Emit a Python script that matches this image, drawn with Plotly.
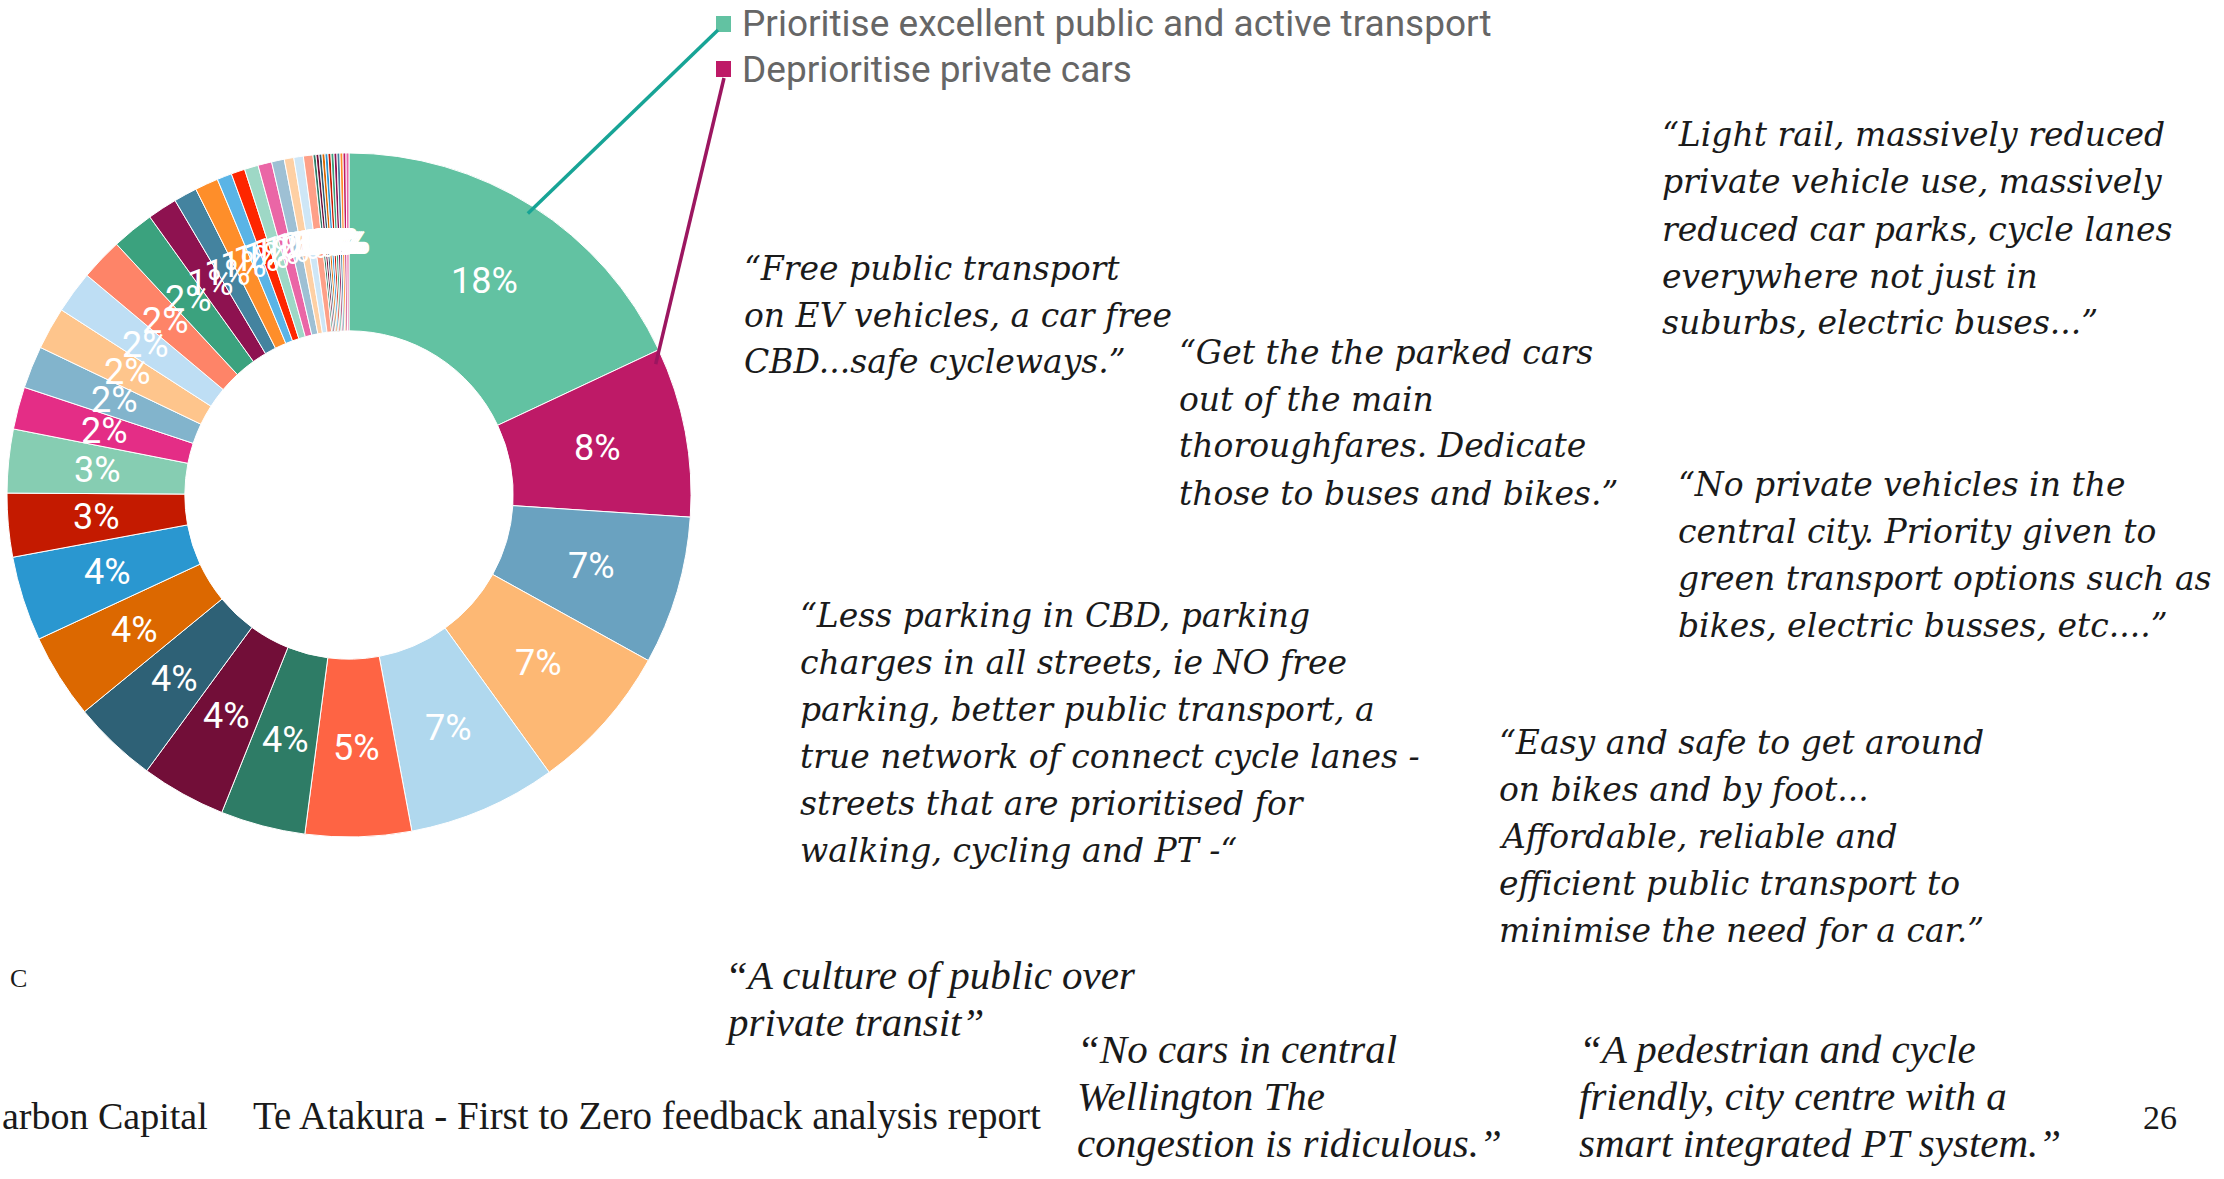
import math
import plotly.graph_objects as go

W, H = 2224, 1179

# ---------------- data ----------------
categories = [
    "Prioritise excellent public and active transport",
    "Deprioritise private cars",
    "Theme 3", "Theme 4", "Theme 5", "Theme 6", "Theme 7", "Theme 8", "Theme 9",
    "Theme 10", "Theme 11", "Theme 12", "Theme 13", "Theme 14", "Theme 15",
    "Theme 16", "Theme 17", "Theme 18", "Theme 19", "Theme 20", "Theme 21",
    "Theme 22", "Theme 23", "Theme 24", "Theme 25", "Theme 26", "Theme 27",
    "Theme 28", "Theme 29", "Theme 30", "Theme 31", "Theme 32", "Theme 33",
    "Theme 34", "Theme 35", "Theme 36", "Theme 37", "Theme 38", "Theme 39",
    "Theme 40", "Theme 41", "Theme 42",
]
values = [
    18, 8, 7, 7, 7, 5, 4, 4, 4, 4, 4, 3, 3, 2, 2, 2, 2, 2, 2,
    1.4, 1.1, 1.1, 0.7, 0.65, 0.65, 0.65, 0.6, 0.45, 0.45, 0.45,
    0.14, 0.14, 0.14, 0.14, 0.14, 0.14, 0.14, 0.14, 0.14, 0.14, 0.14, 0.14,
]
colors = [
    "#62C2A2", "#BE1A67", "#6AA2C0", "#FDB874", "#B0D8EE", "#FE6444",
    "#2E7C66", "#720E38", "#2E6176", "#DC6800", "#2A97D0", "#C41A00",
    "#86CDB2", "#E42D86", "#82B4CC", "#FEC58C", "#BEDEF4", "#FE8468",
    "#3BA27E", "#8E1250", "#44839F", "#FE8E2A", "#5AB4E6", "#FE2600",
    "#9ED8C6", "#EA66A6", "#9EC0D4", "#FED0A4", "#CEE6F6", "#FEA088",
    "#2E7C66", "#720E38", "#2E6176", "#DC6800", "#2A97D0", "#C41A00",
    "#3BA27E", "#8E1250", "#44839F", "#FE8E2A", "#BE1A67", "#EA66A6",
]

legend_labels = categories[:2]
legend_colors = colors[:2]
leader_colors = ["#17A496", "#9C1660"]

quotes = [
    (742, 268, ["“Free public transport", "on EV vehicles, a car free", "CBD...safe cycleways.”"]),
    (1177, 352, ["“Get the the parked cars", "out of the main", "thoroughfares. Dedicate", "those to buses and bikes.”"]),
    (1660, 135, ["“Light rail, massively reduced", "private vehicle use, massively", "reduced car parks, cycle lanes", "everywhere not just in", "suburbs, electric buses...”"]),
    (1676, 484, ["“No private vehicles in the", "central city. Priority given to", "green transport options such as", "bikes, electric busses, etc....”"]),
    (798, 615, ["“Less parking in CBD, parking", "charges in all streets, ie NO free", "parking, better public transport, a", "true network of connect cycle lanes -", "streets that are prioritised for", "walking, cycling and PT -“"]),
    (1497, 742, ["“Easy and safe to get around", "on bikes and by foot...", "Affordable, reliable and", "efficient public transport to", "minimise the need for a car.”"]),
]
quotes_narrow = [
    (723, 975, ["“A culture of public over", "private transit”"]),
    (1075, 1049, ["“No cars in central", "Wellington The", "congestion is ridiculous.”"]),
    (1577, 1049, ["“A pedestrian and cycle", "friendly, city centre with a", "smart integrated PT system.”"]),
]
footer_left = "arbon Capital"
footer_title = "Te Atakura - First to Zero feedback analysis report"
page_number = "26"
corner_letter = "C"

# ---------------- geometry ----------------
cx, cy, R = 349, 495, 342
hole = 0.48
LINE = 47

fig = go.Figure()
fig.add_trace(go.Pie(
    labels=categories,
    values=values,
    sort=False,
    direction="clockwise",
    rotation=0,
    hole=hole,
    marker=dict(colors=colors, line=dict(color="white", width=1)),
    textinfo="none",
    hoverinfo="label+percent",
    showlegend=False,
    domain=dict(x=[(cx - R) / W, (cx + R) / W], y=[1 - (cy + R) / H, 1 - (cy - R) / H]),
))

def px(x, y):
    return x / W, 1 - y / H

annotations = []
shapes = []

# percentage labels, placed at the middle of the ring at each slice's mid-angle
total = sum(values)
cum = [0]
for v in values:
    cum.append(cum[-1] + v)
r_lab = R * (1 + hole) / 2
for i, v in enumerate(values):
    frac = (cum[i] + v / 2) / total
    th = 2 * math.pi * frac
    lx = cx + r_lab * math.sin(th)
    ly = cy - r_lab * math.cos(th)
    xa, ya = px(lx, ly)
    annotations.append(dict(x=xa, y=ya, xref="paper", yref="paper",
                            text="%d%%" % round(100 * v / total), showarrow=False,
                            xanchor="center", yanchor="middle",
                            font=dict(family="Roboto", size=36, color="white")))

# legend (only the first two entries visible on the slide)
leg_y = [24, 69]
for lab, col, y in zip(legend_labels, legend_colors, leg_y):
    x0, y0 = px(716, y - 8)
    x1, y1 = px(731, y + 8)
    shapes.append(dict(type="rect", xref="paper", yref="paper", x0=x0, x1=x1, y0=y1, y1=y0,
                       fillcolor=col, line=dict(width=0)))
    xa, ya = px(740, y)
    annotations.append(dict(x=xa, y=ya, xref="paper", yref="paper", text=lab, showarrow=False,
                            xanchor="left", yanchor="middle",
                            font=dict(family="Roboto", size=37, color="#666666")))

# leader lines from the slices to the legend markers
anchors = [
    (cum[0] + 0.5 * values[0]) / total,
    (cum[1] + 0.07 * values[1]) / total,
]
legend_ends = [(718, 30), (724, 78)]
for frac, col, (ex, ey) in zip(anchors, leader_colors, legend_ends):
    th = 2 * math.pi * frac
    r = 0.975 * R
    sx = cx + r * math.sin(th)
    sy = cy - r * math.cos(th)
    a0 = px(sx, sy)
    a1 = px(ex, ey)
    shapes.append(dict(type="line", xref="paper", yref="paper", x0=a0[0], y0=a0[1], x1=a1[0], y1=a1[1],
                       line=dict(color=col, width=3.5)))

# quotes
for x, y, lines in quotes:
    for i, ln in enumerate(lines):
        xa, ya = px(x, y + i * LINE)
        annotations.append(dict(x=xa, y=ya, xref="paper", yref="paper", text="<i>" + ln + "</i>",
                                showarrow=False, xanchor="left", yanchor="middle",
                                font=dict(family="DejaVu Serif", size=33, color="#1a1a1a")))
for x, y, lines in quotes_narrow:
    for i, ln in enumerate(lines):
        xa, ya = px(x, y + i * LINE)
        annotations.append(dict(x=xa, y=ya, xref="paper", yref="paper", text="<i>" + ln + "</i>",
                                showarrow=False, xanchor="left", yanchor="middle",
                                font=dict(family="Liberation Serif", size=41, color="#1a1a1a")))

# footer
for txt, x, y, anchor, size in [
    (footer_left, 0, 1116, "left", 38),
    (footer_title, 251, 1116, "left", 39),
    (page_number, 2160, 1117, "center", 34),
    (corner_letter, 18, 978, "center", 26),
]:
    xa, ya = px(x, y)
    annotations.append(dict(x=xa, y=ya, xref="paper", yref="paper", text=txt, showarrow=False,
                            xanchor=anchor, yanchor="middle",
                            font=dict(family="Liberation Serif", size=size, color="#1a1a1a")))

fig.update_layout(
    width=W, height=H,
    margin=dict(l=0, r=0, t=0, b=0),
    paper_bgcolor="white", plot_bgcolor="white",
    annotations=annotations,
    shapes=shapes,
)

fig.write_html("out.html",
               config={"displayModeBar": False},
               post_script="document.body.style.margin='0px';document.body.style.overflow='hidden';")
